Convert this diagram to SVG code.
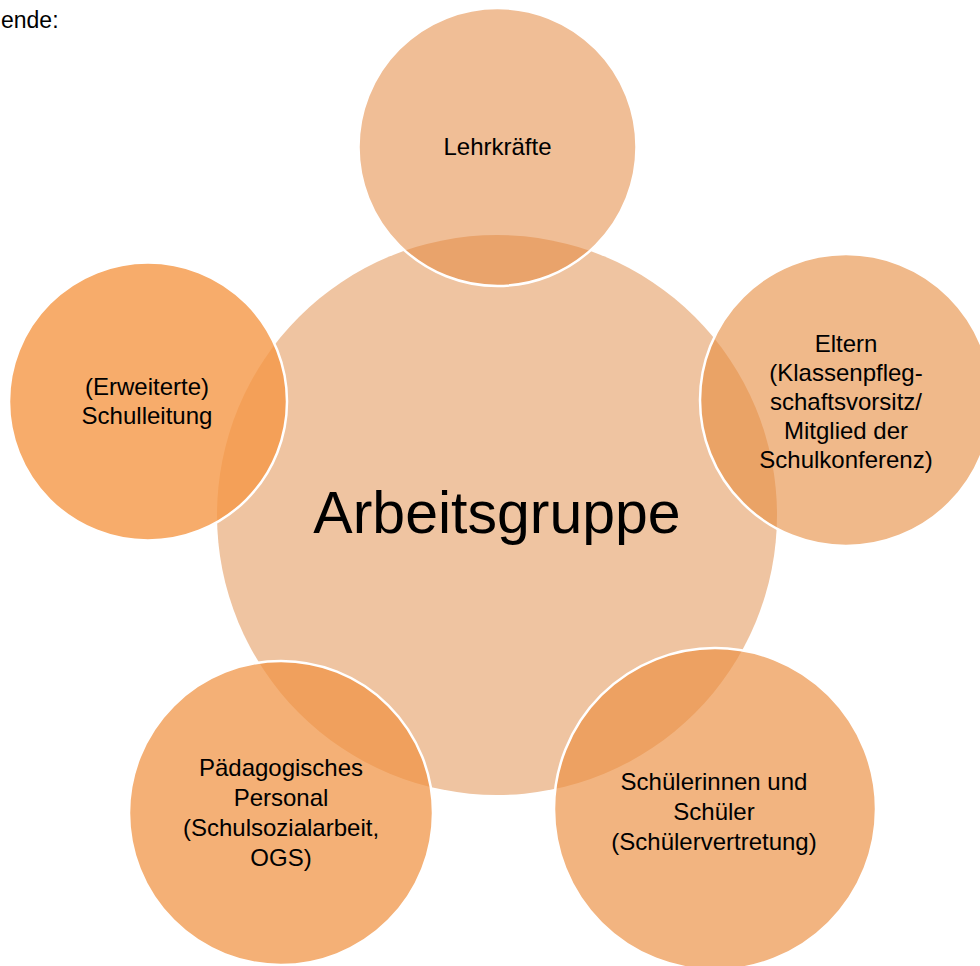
<svg xmlns="http://www.w3.org/2000/svg" width="980" height="966" viewBox="0 0 980 966">
<style>
  .t{font-family:"Liberation Sans",Arial,sans-serif;font-size:24px;fill:#000;text-anchor:middle}
  .big{font-family:"Liberation Sans",Arial,sans-serif;font-size:59px;fill:#000;text-anchor:middle}
  .outer{stroke:#fff;stroke-width:2.5}
</style>
<rect width="980" height="966" fill="#fff"/>
<text x="1" y="28" font-family="Liberation Sans, Arial, sans-serif" font-size="23" fill="#000">ende:</text>
<g id="arbeitsgruppe">
  <circle cx="497" cy="515" r="280" fill="#EFC4A1"/>
</g>
<g id="lehrkraefte">
  <circle class="outer" cx="497.5" cy="147" r="139" fill="#E48940" fill-opacity="0.55"/>
  <text class="t" x="497.5" y="155">Lehrkräfte</text>
</g>
<g id="eltern">
  <circle class="outer" cx="846" cy="400" r="146" fill="#E78E42" fill-opacity="0.62"/>
  <text class="t" x="846" y="352">Eltern</text>
  <text class="t" x="846" y="381">(Klassenpfleg-</text>
  <text class="t" x="846" y="410">schaftsvorsitz/</text>
  <text class="t" x="846" y="439">Mitglied der</text>
  <text class="t" x="846" y="468">Schulkonferenz)</text>
</g>
<g id="schueler">
  <circle class="outer" cx="715" cy="809" r="161" fill="#EC9144" fill-opacity="0.68"/>
  <text class="t" x="714" y="790">Schülerinnen und</text>
  <text class="t" x="714" y="820">Schüler</text>
  <text class="t" x="714" y="850">(Schülervertretung)</text>
</g>
<g id="paedagogisches-personal">
  <circle class="outer" cx="281" cy="813" r="152" fill="#F09343" fill-opacity="0.73"/>
  <text class="t" x="281" y="776">Pädagogisches</text>
  <text class="t" x="281" y="806">Personal</text>
  <text class="t" x="281" y="836">(Schulsozialarbeit,</text>
  <text class="t" x="281" y="866">OGS)</text>
</g>
<g id="schulleitung">
  <circle class="outer" cx="148" cy="401.5" r="139" fill="#F59746" fill-opacity="0.8"/>
  <text class="t" x="147" y="395">(Erweiterte)</text>
  <text class="t" x="147" y="424">Schulleitung</text>
</g>
<g id="center-label">
  <text class="big" x="497" y="533">Arbeitsgruppe</text>
</g>
</svg>
